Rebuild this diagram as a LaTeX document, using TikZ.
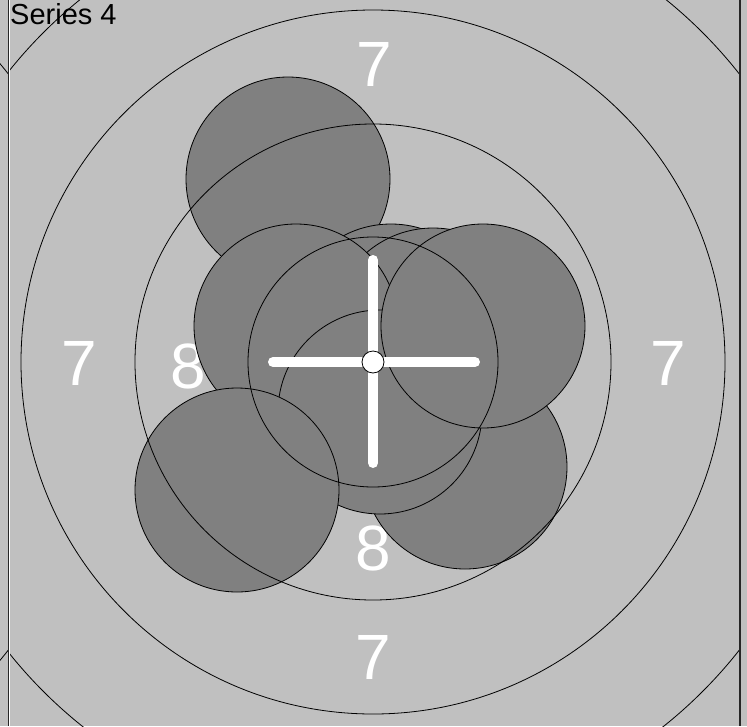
\documentclass[tikz,border=0pt]{standalone}
\usepackage{fontspec}
\setmainfont{Liberation Sans}
\usetikzlibrary{positioning}

\definecolor{targetgray}{HTML}{C0C0C0}
\definecolor{shotgray}{HTML}{808080}

\begin{document}
\begin{tikzpicture}[x=1pt, y=-1pt,
    ring/.style={draw=black, line width=0.8pt},
    shot/.style={draw=black, line width=0.8pt, fill=shotgray},
    ringnum/.style={text=white, inner sep=0pt, font=\fontsize{64}{64}\selectfont},
    cross/.style={draw=white, line width=10pt, line cap=round},
    frame/.style={draw=black!85, line width=1.2pt},
    title/.style={anchor=base west, inner sep=0pt, font=\fontsize{29}{29}\selectfont},
]

\useasboundingbox (0,0) rectangle (747,726);
\fill[targetgray] (0,0) rectangle (747,726);

% Neighbouring target (left edge)
\begin{scope}
  \clip (0,0) rectangle (8.5,726);
  \draw[ring] (-358,362) circle[radius=466pt];
\end{scope}

\coordinate (centre) at (373,362);

\begin{scope}
  \clip (9,0) rectangle (740,726);

  % Ring numbers
  \node[ringnum] (seventop) at (374,64) {7};
  \node[ringnum] (sevenbot) at (373,657) {7};
  \node[ringnum] (sevenleft) at (79,363) {7};
  \node[ringnum] (sevenright) at (668,363) {7};
  \node[ringnum] (eightleft) at (188,366) {8};
  \node[ringnum] (eightbot) at (373,548) {8};

  % Shots
  \draw[shot] (288,179) circle[radius=102pt];
  \draw[shot] (391,326) circle[radius=102pt];
  \draw[shot] (433,330) circle[radius=102pt];
  \draw[shot] (465,467) circle[radius=102pt];
  \draw[shot] (296,326) circle[radius=102pt];
  \draw[shot] (380,412) circle[radius=102pt];
  \draw[shot] (237,490) circle[radius=102pt];
  \draw[shot] (483,326) circle[radius=102pt];

  % Rings
  \foreach \r in {466,352,238,125}
    \draw[ring] (centre) circle[radius=\r pt];
\end{scope}

% Mean point of impact
\coordinate (crossl) at (273,362);
\coordinate (crossr) at (475,362);
\coordinate (crosst) at (373,260);
\coordinate (crossb) at (373,463);
\draw[cross] (crossl) -- (crossr);
\draw[cross] (crosst) -- (crossb);
\draw[ring, fill=white] (centre) circle[radius=11pt];

% Panel edges
\draw[frame] (8.5,0) -- (8.5,726);
\draw[white, line width=0.8pt] (9.8,0) -- (9.8,726);
\draw[frame] (740,0) -- (740,726);

\node[title] (series) at (10,24) {Series 4};

\end{tikzpicture}
\end{document}
